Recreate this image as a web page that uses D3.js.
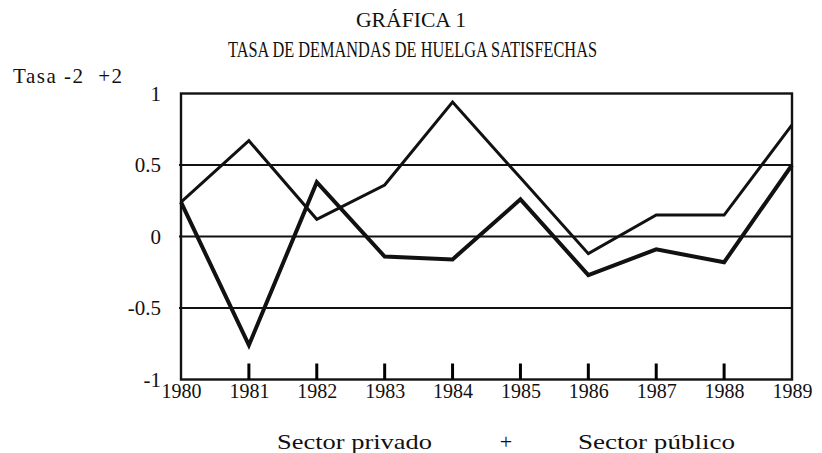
<!DOCTYPE html>
<html><head><meta charset="utf-8">
<script src="https://cdn.jsdelivr.net/npm/d3@7"></script>
<style>
body{margin:0;background:#fff}
svg{display:block}
text{font-family:"Liberation Serif","Times New Roman",serif;fill:#111}
</style>
</head><body><svg id="c" width="822" height="453"></svg>
<script>
const years = [1980,1981,1982,1983,1984,1985,1986,1987,1988,1989];
const seriesNames = ["Sector privado","Sector público"];
const privado = [0.24,0.67,0.12,0.36,0.94,0.41,-0.12,0.15,0.15,0.78];
const publico = [0.24,-0.76,0.38,-0.14,-0.16,0.26,-0.27,-0.09,-0.18,0.50];
const yTicks = [1,0.5,0,-0.5,-1];
const yTickLabels = ["1","0.5","0","-0.5","-1"];
const gridValues = [0.5,0,-0.5];
const innerTickYears = [1981,1982,1983,1984,1985,1986,1987,1988];
const titleLines = ["GRÁFICA 1","TASA DE DEMANDAS DE HUELGA SATISFECHAS"];
const yAxisTitle = "Tasa -2  +2";

const svg = d3.select("#c");
const L = 181, R = 792, T = 93.5, B = 379.5;
const x = d3.scalePoint().domain(years).range([L,R]);
const y = d3.scaleLinear().domain([-1,1]).range([B,T]);

// titles
svg.append("text").attr("x",411).attr("y",27).attr("text-anchor","middle")
  .style("font-size","21px").attr("textLength",110).attr("lengthAdjust","spacingAndGlyphs")
  .text(titleLines[0]);
svg.append("text").attr("x",412.5).attr("y",57).attr("text-anchor","middle")
  .style("font-size","23px").attr("textLength",369).attr("lengthAdjust","spacingAndGlyphs")
  .text(titleLines[1]);
svg.append("text").attr("x",13).attr("y",83).style("font-size","21px")
  .attr("xml:space","preserve").style("white-space","pre")
  .attr("textLength",109).attr("lengthAdjust","spacing").text(yAxisTitle);

// gridlines
svg.append("g").selectAll("line").data(gridValues).join("line")
  .attr("x1",L-2).attr("x2",R).attr("y1",d=>y(d)).attr("y2",d=>y(d))
  .attr("stroke","#111").attr("stroke-width",2);

// frame
svg.append("rect").attr("x",L).attr("y",T).attr("width",R-L).attr("height",B-T)
  .attr("fill","none").attr("stroke","#111").attr("stroke-width",2.4);

// x axis labels
const xAxis = d3.axisBottom(x).tickSize(0).tickPadding(4);
const gx = svg.append("g").attr("transform",`translate(0,${B})`).call(xAxis);
gx.select(".domain").remove();
gx.selectAll("text").style("font-size","20px").attr("fill","#111");

// y axis labels
const yAxis = d3.axisLeft(y).tickValues(yTicks).tickSize(0).tickPadding(20)
  .tickFormat(d=>yTickLabels[yTicks.indexOf(d)]);
const gy = svg.append("g").attr("transform",`translate(${L},0)`).call(yAxis);
gy.select(".domain").remove();
gy.selectAll("text").style("font-size","21px").attr("fill","#111");

// series lines
const line = d3.line().x((d,i)=>x(years[i])).y(d=>y(d));
svg.append("path").datum(privado).attr("d",line).attr("fill","none")
  .attr("stroke","#111").attr("stroke-width",3).attr("stroke-linejoin","miter");
svg.append("path").datum(publico).attr("d",line).attr("fill","none")
  .attr("stroke","#111").attr("stroke-width",4).attr("stroke-linejoin","miter");

// legend
svg.append("text").attr("x",277).attr("y",449).style("font-size","22px")
  .attr("textLength",155).attr("lengthAdjust","spacingAndGlyphs").text(seriesNames[0]);
svg.append("text").attr("x",506).attr("y",449).attr("text-anchor","middle")
  .style("font-size","22px").text("+");
svg.append("text").attr("x",578).attr("y",449).style("font-size","22px")
  .attr("textLength",157).attr("lengthAdjust","spacingAndGlyphs").text(seriesNames[1]);

// inner tick marks (drawn last, on top)
svg.append("g").attr("class","innerticks").selectAll("line").data(innerTickYears).join("line")
  .attr("x1",d=>x(d)).attr("x2",d=>x(d)).attr("y1",B).attr("y2",B-16)
  .attr("stroke","#000").attr("stroke-width",3);
</script>
</body></html>
